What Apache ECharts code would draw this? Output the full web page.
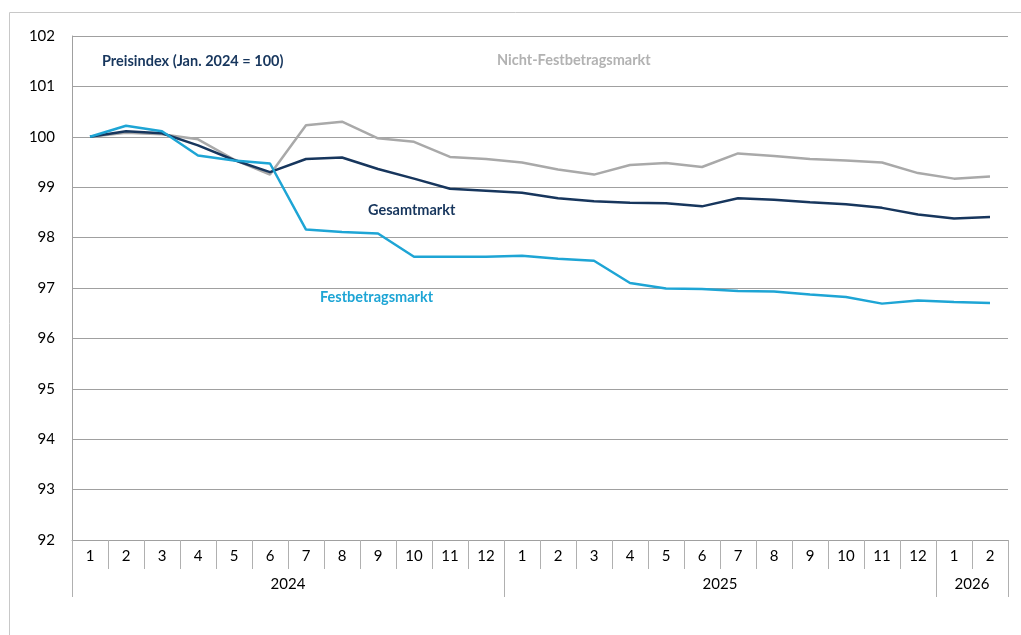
<!DOCTYPE html>
<html>
<head>
<meta charset="utf-8">
<script src="https://cdn.jsdelivr.net/npm/echarts@6/dist/echarts.min.js"></script>
<style>
  html, body { margin: 0; padding: 0; background: #fff; }
  #chart { width: 1021px; height: 635px; }
</style>
</head>
<body>
<div id="chart"></div>
<script>
// Monate Jan. 2024 bis Feb. 2026
const months = ["1","2","3","4","5","6","7","8","9","10","11","12",
                "1","2","3","4","5","6","7","8","9","10","11","12",
                "1","2"];
const yearGroups = [["2024", 12], ["2025", 12], ["2026", 2]];

// Preisindex (Jan. 2024 = 100)
const gesamtmarkt = [100, 100.11, 100.07, 99.83, 99.54, 99.30, 99.56, 99.59, 99.36, 99.17, 98.97, 98.93,
                     98.89, 98.78, 98.72, 98.69, 98.68, 98.62, 98.78, 98.75, 98.70, 98.66, 98.59, 98.46,
                     98.38, 98.41];
const festbetragsmarkt = [100, 100.22, 100.11, 99.63, 99.53, 99.47, 98.16, 98.11, 98.08, 97.62, 97.62, 97.62,
                          97.64, 97.58, 97.54, 97.10, 96.99, 96.98, 96.94, 96.93, 96.87, 96.82, 96.69, 96.75,
                          96.72, 96.70];
const nichtFestbetragsmarkt = [100, 100.08, 100.05, 99.95, 99.55, 99.25, 100.23, 100.30, 99.97, 99.90, 99.60, 99.56,
                               99.49, 99.35, 99.25, 99.44, 99.48, 99.40, 99.67, 99.62, 99.56, 99.53, 99.49, 99.28,
                               99.17, 99.21];

// Jahr-Zuordnung je Monat, Grenzen und Label-Positionen
let years = [];
let yearStarts = [];
let yearLabelIdx = {};
yearGroups.forEach(function (g) {
  yearStarts.push(years.length);
  // Label sitzt auf der Mitte der Gruppe (halbe Kategorie nach rechts verschoben)
  yearLabelIdx[years.length + Math.floor(g[1] / 2) - 1] = g[0];
  for (let i = 0; i < g[1]; i++) years.push(g[0]);
});

const fontFamily = "Lato, 'Open Sans', sans-serif";
const gridColor = "#a0a0a0";
const labelFont = "bold 14.5px " + fontFamily;

let chart = echarts.init(document.getElementById("chart"));
chart.setOption({
  animation: false,
  textStyle: { fontFamily: fontFamily },
  grid: { left: 72, right: 13, top: 36, bottom: 95 },
  xAxis: [
    {
      type: "category",
      data: months,
      boundaryGap: true,
      axisLine: { lineStyle: { color: gridColor, width: 1 } },
      axisTick: { show: true, length: 29, interval: 0, lineStyle: { color: "#b0b0b0" } },
      axisLabel: { interval: 0, margin: 9, color: "#000", fontSize: 15 },
      splitLine: { show: false },
    },
    {
      type: "category",
      data: years,
      position: "bottom",
      boundaryGap: true,
      axisLine: { show: false },
      axisTick: {
        show: true,
        length: 57,
        interval: function (index) {
          return yearStarts.indexOf(index) >= 0;
        },
        lineStyle: { color: "#b0b0b0" },
      },
      axisLabel: {
        interval: function (index) {
          return yearLabelIdx[index] !== undefined;
        },
        margin: 37,
        color: "#000",
        fontSize: 15,
        align: "center",
        padding: [0, 0, 0, 36],
      },
      splitLine: { show: false },
    },
  ],
  yAxis: {
    type: "value",
    min: 92,
    max: 102,
    interval: 1,
    axisLine: { show: true, lineStyle: { color: gridColor } },
    axisTick: { show: false },
    axisLabel: { margin: 17, color: "#000", fontSize: 15 },
    splitLine: { lineStyle: { color: gridColor, width: 1 } },
  },
  series: [
    {
      name: "Nicht-Festbetragsmarkt",
      type: "line",
      data: nichtFestbetragsmarkt,
      showSymbol: false,
      lineStyle: { color: "#a9a9a9", width: 2.5 },
      itemStyle: { color: "#a9a9a9" },
      z: 2,
    },
    {
      name: "Gesamtmarkt",
      type: "line",
      data: gesamtmarkt,
      showSymbol: false,
      lineStyle: { color: "#17365d", width: 2.5 },
      itemStyle: { color: "#17365d" },
      z: 3,
    },
    {
      name: "Festbetragsmarkt",
      type: "line",
      data: festbetragsmarkt,
      showSymbol: false,
      lineStyle: { color: "#1ea5d5", width: 2.5 },
      itemStyle: { color: "#1ea5d5" },
      z: 4,
    },
  ],
  graphic: [
    {
      type: "polyline",
      shape: { points: [[9.5, 635], [9.5, 12.5], [1021, 12.5]] },
      style: { stroke: "#c8c8c8", lineWidth: 1, fill: null },
      silent: true,
    },
    {
      type: "text",
      left: 102,
      top: 54,
      style: { text: "Preisindex (Jan. 2024 = 100)", fill: "#17365d", font: labelFont },
    },
    {
      type: "text",
      left: 497,
      top: 53,
      style: { text: "Nicht-Festbetragsmarkt", fill: "#b2b2b2", font: labelFont },
    },
    {
      type: "text",
      left: 368,
      top: 203,
      style: { text: "Gesamtmarkt", fill: "#17365d", font: labelFont },
    },
    {
      type: "text",
      left: 320,
      top: 290,
      style: { text: "Festbetragsmarkt", fill: "#1ea5d5", font: labelFont },
    },
  ],
});
</script>
</body>
</html>
